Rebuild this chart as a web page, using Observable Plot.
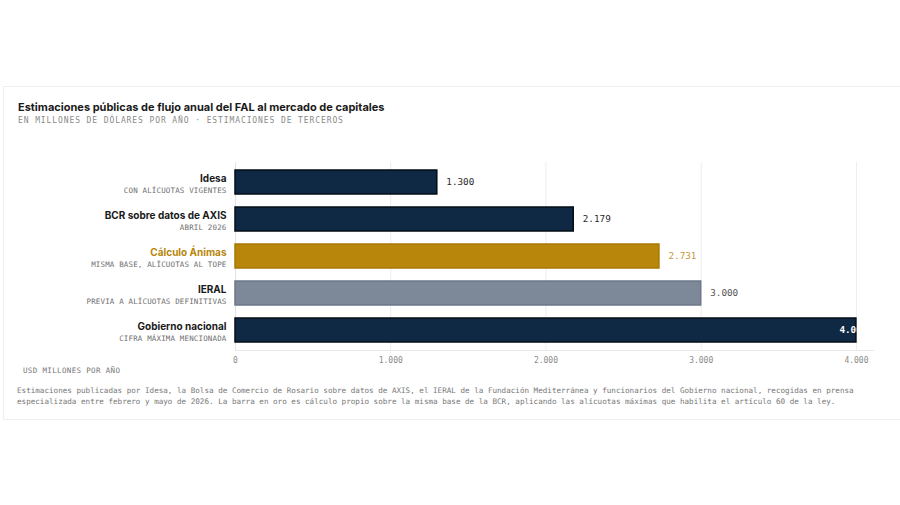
<!DOCTYPE html>
<html>
<head>
<meta charset="utf-8">
<script src="https://cdn.jsdelivr.net/npm/d3@7"></script>
<script src="https://cdn.jsdelivr.net/npm/@observablehq/plot@0.6"></script>
<style>
  html, body { margin: 0; padding: 0; background: #fff; }
  #wrap { position: relative; width: 900px; height: 505px; overflow: hidden; background: #fff; }
  .card { position: absolute; left: 3px; top: 86px; width: 900px; height: 334px; border: 1px solid #efefef; box-sizing: border-box; }
  .title { position: absolute; left: 18px; top: 101.5px; font-family: Inter, sans-serif; font-weight: 700; font-size: 11px; line-height: 11px; color: #1a1a1a; white-space: nowrap; }
  .subtitle { position: absolute; left: 18px; top: 117px; font-family: "DejaVu Sans Mono", monospace; font-size: 8px; line-height: 8px; letter-spacing: 0.9px; color: #8a8a8a; white-space: nowrap; }
  .unit { position: absolute; left: 23px; top: 367px; font-family: "DejaVu Sans Mono", monospace; font-size: 7.5px; line-height: 7.5px; letter-spacing: 0.35px; color: #777; white-space: nowrap; }
  .note { position: absolute; left: 17px; top: 386px; font-family: "DejaVu Sans Mono", monospace; font-size: 7.6px; line-height: 10.5px; color: #777; white-space: nowrap; }
  #chart { position: absolute; left: 0; top: 140px; }
  text.catnote { letter-spacing: 0.15px; }
</style>
</head>
<body>
<div id="wrap">
  <div class="card"></div>
  <div class="title">Estimaciones públicas de flujo anual del FAL al mercado de capitales</div>
  <div class="subtitle">EN MILLONES DE DÓLARES POR AÑO · ESTIMACIONES DE TERCEROS</div>
  <div id="chart"></div>
  <div class="unit">USD MILLONES POR AÑO</div>
  <div class="note">Estimaciones publicadas por Idesa, la Bolsa de Comercio de Rosario sobre datos de AXIS, el IERAL de la Fundación Mediterránea y funcionarios del Gobierno nacional, recogidas en prensa<br>especializada entre febrero y mayo de 2026. La barra en oro es cálculo propio sobre la misma base de la BCR, aplicando las alícuotas máximas que habilita el artículo 60 de la ley.</div>
</div>
<script>
const categories = ["Idesa", "BCR sobre datos de AXIS", "Cálculo Ánimas", "IERAL", "Gobierno nacional"];
const notes = ["CON ALÍCUOTAS VIGENTES", "ABRIL 2026", "MISMA BASE, ALÍCUOTAS AL TOPE", "PREVIA A ALÍCUOTAS DEFINITIVAS", "CIFRA MÁXIMA MENCIONADA"];
const values = [1300, 2179, 2731, 3000, 4000];
const kinds = ["tercero", "tercero", "propio", "previa", "gobierno"];
const xTicks = [0, 1000, 2000, 3000, 4000];
const xMax = 4110;

const fillOf = {tercero: "#0f2844", propio: "#b8860b", previa: "#7d8899", gobierno: "#0f2844"};
const strokeOf = {tercero: "#050c16", propio: "#a87800", previa: "#6c788a", gobierno: "#050c16"};
const labelOf = {tercero: "#2a2a2a", propio: "#c49a3c", previa: "#555", gobierno: "#ffffff"};
const nameOf = {tercero: "#1a1a1a", propio: "#b8860b", previa: "#1a1a1a", gobierno: "#1a1a1a"};

const data = categories.map((c, i) => ({name: c, note: notes[i], value: values[i], kind: kinds[i]}));
const loc = d3.formatLocale({decimal: ",", thousands: ".", grouping: [3], currency: ["$", ""]});
const fmt = loc.format(",d");
const maxV = d3.max(values);

const chart = Plot.plot({
  width: 900,
  height: 240,
  marginLeft: 235,
  marginRight: 27,
  marginTop: 22,
  marginBottom: 30,
  style: {fontFamily: "'DejaVu Sans Mono', monospace", background: "transparent", overflow: "visible"},
  x: {domain: [0, xMax], label: null},
  y: {domain: categories, paddingInner: 0.35, paddingOuter: 0.175, axis: null},
  color: {type: "identity"},
  marks: [
    Plot.gridX({ticks: [1000, 2000, 3000, 4000], stroke: "#ededed", strokeOpacity: 1}),
    Plot.ruleX([0], {stroke: "#e2e2e2"}),
    Plot.frame({anchor: "bottom", stroke: "#e8e8e8"}),
    Plot.barX(data, {x: "value", y: "name", fill: d => fillOf[d.kind], stroke: d => strokeOf[d.kind], strokeWidth: 1.5}),
    Plot.text(data.filter(d => d.value < maxV), {x: "value", y: "name", text: d => fmt(d.value), dx: 9, textAnchor: "start", fontSize: 9.3, fill: d => labelOf[d.kind]}),
    Plot.text(data.filter(d => d.value === maxV), {x: "value", y: "name", text: d => fmt(d.value), dx: 11, textAnchor: "end", fontSize: 9.3, fontWeight: "bold", fill: d => labelOf[d.kind]}),
    Plot.text(data, {y: "name", frameAnchor: "left", dx: -9, dy: -3.5, textAnchor: "end", text: "name", fontFamily: "Inter, sans-serif", fontWeight: 700, fontSize: 10, fill: d => nameOf[d.kind]}),
    Plot.text(data, {y: "name", frameAnchor: "left", dx: -9, dy: 8.5, textAnchor: "end", text: "note", fontSize: 7.5, fill: "#707070"}),
    Plot.axisX({ticks: xTicks, tickFormat: fmt, tickSize: 0, tickPadding: 7, fontSize: 8, color: "#8a8a8a", label: null})
  ]
});
document.getElementById("chart").appendChild(chart);
d3.select(chart).selectAll("text")
  .filter(function () { return notes.includes(this.textContent); })
  .classed("catnote", true)
  .attr("letter-spacing", "0.15");
</script>
</body>
</html>
